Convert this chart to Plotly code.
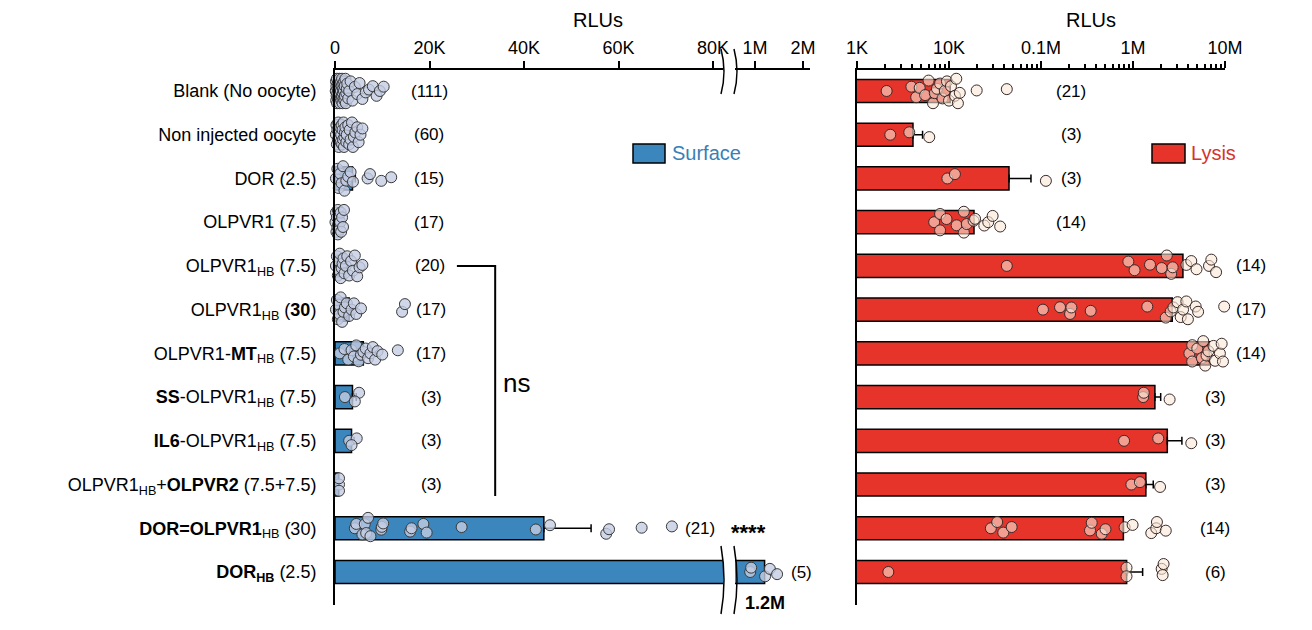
import math
import plotly.graph_objects as go

# ---------------- data ----------------
categories = [
    "Blank (No oocyte)",
    "Non injected oocyte",
    "DOR (2.5)",
    "OLPVR1 (7.5)",
    "OLPVR1<sub>HB</sub> (7.5)",
    "OLPVR1<sub>HB</sub> (<b>30</b>)",
    "OLPVR1-<b>MT</b><sub>HB</sub> (7.5)",
    "<b>SS</b>-OLPVR1<sub>HB</sub> (7.5)",
    "<b>IL6</b>-OLPVR1<sub>HB</sub> (7.5)",
    "OLPVR1<sub>HB</sub>+<b>OLPVR2</b> (7.5+7.5)",
    "<b>DOR=OLPVR1</b><sub>HB</sub> (30)",
    "<b>DOR<sub>HB</sub></b> (2.5)",
]
surface_n = [111, 60, 15, 17, 20, 17, 17, 3, 3, 3, 21, 5]
lysis_n = [21, 3, 3, 14, 14, 17, 14, 3, 3, 3, 14, 6]

surface_mean = [500, 1500, 3700, 900, 2300, 3000, 6000, 3700, 3500, 800, 44200, 1200000]
surface_err = [None, 200, 600, None, 300, 800, 700, 800, 500, None, 10000, None]

lysis_mean = [10300, 4060, 44900, 18700, 3490000, 2670000, 6760000,
              1730000, 2360000, 1380000, 786000, 853000]
lysis_err = [None, 1100, 32900, None, None, None, None,
             270000, 1040000, 280000, None, 420000]

surface_points = [
    [150, 200, 250, 300, 350, 400, 450, 500, 550, 600, 650, 700, 750, 800, 850, 900, 950,
     1000, 1050, 1100, 1150, 1200, 1250, 1300, 1350, 1400, 1450, 1500, 1600, 1650, 1700,
     1750, 1800, 1900, 1950, 2000, 2050, 2100, 2200, 2300, 2400, 2500, 2600, 2800, 3000,
     3300, 3700, 4200, 4700, 5200, 5800, 6500, 7200, 8000, 8800, 9500, 10300],
    [200, 300, 400, 500, 600, 700, 800, 900, 1000, 1100, 1200, 1300, 1400, 1500, 1600,
     1700, 1800, 1900, 2000, 2100, 2200, 2400, 2500, 2800, 3000, 3100, 3300, 3600, 3800,
     4000, 4300, 4700, 5000, 5400, 5800],
    [200, 500, 800, 1100, 1400, 1700, 2000, 2400, 2800, 3300, 3800, 6900, 7400, 9800, 11900],
    [100, 200, 300, 400, 500, 600, 600, 700, 800, 900, 1000, 1100, 1200, 1300, 1500, 1700, 1900],
    [200, 400, 600, 800, 900, 1000, 1200, 1400, 1600, 1800, 2000, 2300, 2600, 3000, 3400,
     3800, 4200, 4700, 5200, 5800],
    [200, 400, 600, 800, 1000, 1200, 1500, 1800, 2100, 2500, 3000, 3500, 4000, 4500, 5500,
     14200, 14800],
    [1000, 2000, 2800, 3500, 4000, 4500, 5000, 5500, 6000, 6500, 7000, 7500, 8000, 8500,
     9000, 10000, 13300],
    [2100, 5100, 4200],
    [3000, 4600, 3500],
    [850, 850, 850],
    [4200, 4500, 5800, 6300, 6600, 7000, 7500, 9800, 9900, 10200, 15900, 16200, 18700,
     19400, 26800, 42500, 45500, 57400, 58000, 64900, 71300],
    [900000, 920000, 1210000, 1310000, 1460000],
]

lysis_points = [
    [2100, 3900, 4400, 4800, 5500, 6000, 6700, 7000, 7400, 8000, 8500, 9000, 9500, 10000,
     10500, 11600, 12000, 12500, 13100, 20000, 42500],
    [2300, 3700, 6100],
    [9600, 11600, 113000],
    [6900, 8000, 8000, 9400, 12100, 14500, 14500, 15600, 18500, 19200, 24200, 26700, 29800, 36000],
    [42500, 890000, 1040000, 1530000, 2050000, 2330000, 2600000, 2700000, 3800000, 4300000,
     4900000, 6700000, 7100000, 8000000],
    [105000, 161000, 207000, 214000, 347000, 1430000, 2270000, 2570000, 2750000, 3050000,
     3300000, 3500000, 3800000, 3950000, 4800000, 5100000, 9800000],
    [4100000, 4400000, 4400000, 5000000, 5600000, 5800000, 6100000, 6300000, 6600000,
     7500000, 7800000, 8800000, 9200000, 9500000],
    [1290000, 1310000, 2500000],
    [800000, 1880000, 4300000],
    [960000, 1190000, 1970000],
    [28500, 33400, 38900, 48000, 341000, 356000, 457000, 502000, 810000, 990000, 1580000,
     1790000, 1820000, 2270000],
    [2190, 850000, 850000, 2050000, 2100000, 2150000],
]

low_ticks = [0, 20000, 40000, 60000, 80000]
low_ticktext = ["0", "20K", "40K", "60K", "80K"]
high_ticks = [1000000, 2000000]
high_ticktext = ["1M", "2M"]
log_ticks = [1e3, 1e4, 1e5, 1e6, 1e7]
log_ticktext = ["1K", "10K", "0.1M", "1M", "10M"]

# ---------------- layout helpers ----------------
OFF = 8  # page body margin
W, H = 1312 - 2 * OFF, 630 - 2 * OFF
L = 335 - OFF
T = 70 - OFF
R = W - (1225 - OFF)
B = H - (605 - OFF)
PW, PH = W - L - R, H - T - B
FONT = "Liberation Sans, Arial, Helvetica, sans-serif"
BLUE = "#3b86bd"
RED = "#e6342a"


def px(x):  # page pixel -> paper
    return (x - OFF - L) / PW


def py(y):
    return 1 - (y - OFF - T) / PH


JIT = [0.0, -0.22, 0.22, -0.11, 0.11, -0.28, 0.28, 0.05, -0.05, -0.17, 0.17]


def jitter(vals, row, window, tf=lambda v: v):
    out = []
    tv = [tf(v) for v in vals]
    for i, v in enumerate(tv):
        crowd = sum(1 for w in tv if abs(w - v) <= window) - 1
        amp = min(1.0, 0.25 + crowd / 5.0)
        out.append(row + JIT[i % len(JIT)] * amp)
    return out


rows = list(range(len(categories)))
fig = go.Figure()

# ---- surface bars (low segment) ----
fig.add_trace(go.Bar(
    orientation="h", x=surface_mean, y=rows, xaxis="x", yaxis="y", width=0.53,
    marker=dict(color=BLUE, line=dict(color="black", width=1.5)),
    error_x=dict(type="data", array=[e if e is not None else float("nan") for e in surface_err],
                 arrayminus=[0] * len(rows), symmetric=False,
                 color="black", thickness=1.5, width=4),
    showlegend=False, hoverinfo="skip"))
# ---- surface bar, high segment (only the broken bar) ----
fig.add_trace(go.Bar(
    orientation="h", x=[surface_mean[11]], y=[11], xaxis="x2", yaxis="y2", width=0.53,
    marker=dict(color=BLUE, line=dict(color="black", width=1.5)),
    showlegend=False, hoverinfo="skip"))

# ---- surface points ----
dot_s = dict(size=11, color="rgba(196,205,228,0.8)", line=dict(color="#3a3a3a", width=1))
for r in rows[:-1]:
    fig.add_trace(go.Scatter(x=surface_points[r], y=jitter(surface_points[r], r, 900),
                             mode="markers", xaxis="x", yaxis="y", marker=dot_s, cliponaxis=False,
                             showlegend=False, hoverinfo="skip"))
fig.add_trace(go.Scatter(x=surface_points[11], y=jitter(surface_points[11], 11, 150000),
                         mode="markers", xaxis="x2", yaxis="y2", marker=dot_s, cliponaxis=False,
                         showlegend=False, hoverinfo="skip"))

# ---- lysis bars ----
fig.add_trace(go.Bar(
    orientation="h", x=lysis_mean, y=rows, xaxis="x3", yaxis="y3", width=0.53,
    marker=dict(color=RED, line=dict(color="black", width=1.5)),
    error_x=dict(type="data", array=[e if e is not None else float("nan") for e in lysis_err],
                 arrayminus=[0] * len(rows), symmetric=False,
                 color="black", thickness=1.5, width=4),
    showlegend=False, hoverinfo="skip"))
dot_l = dict(size=11, color="rgba(250,232,215,0.6)", line=dict(color="#3a2a2a", width=1))
for r in rows:
    fig.add_trace(go.Scatter(x=lysis_points[r], y=jitter(lysis_points[r], r, 0.09, math.log10),
                             mode="markers", xaxis="x3", yaxis="y3", marker=dot_l, cliponaxis=False,
                             showlegend=False, hoverinfo="skip"))

# ---------------- axes ----------------
low_end_px, high_start_px, high_end_px = 723, 735, 810
px_per_k = (713 - 335) / 80.0
low_max = (low_end_px - 335) / px_per_k * 1000
m_per_px = 1e6 / 48.0
high_min = 1e6 - (755 - high_start_px) * m_per_px
high_max = 2e6 + (high_end_px - 803) * m_per_px

axis_common = dict(side="top", showline=True, linewidth=2, linecolor="black", ticks="outside",
                   ticklen=7, tickwidth=2, tickcolor="black", showgrid=False, zeroline=False,
                   tickfont=dict(family=FONT, size=18, color="black"), fixedrange=True)

minor_vals = [m * 10 ** d for d in range(3, 7) for m in range(2, 10)]

fig.update_layout(
    width=W, height=H, margin=dict(l=L, r=R, t=T, b=B),
    paper_bgcolor="white", plot_bgcolor="white",
    font=dict(family=FONT, color="black"),
    xaxis=dict(domain=[0, px(low_end_px)], range=[0, low_max], anchor="y",
               tickvals=low_ticks, ticktext=low_ticktext, **axis_common),
    xaxis2=dict(domain=[px(high_start_px), px(high_end_px)], range=[high_min, high_max], anchor="y2",
                tickvals=high_ticks, ticktext=high_ticktext, **axis_common),
    xaxis3=dict(domain=[px(857), 1], type="log", range=[3, 7], anchor="y3",
                tickvals=log_ticks, ticktext=log_ticktext,
                minor=dict(ticks="outside", ticklen=4, tickwidth=1.5, tickcolor="black",
                           tickmode="array", tickvals=minor_vals, showgrid=False),
                **axis_common),
    yaxis=dict(domain=[0, 1], range=[11.755, -0.48], anchor="x", tickvals=rows, ticktext=categories,
               showline=True, linewidth=2, linecolor="black", ticks="", showgrid=False,
               zeroline=False, ticklabelstandoff=13,
               tickfont=dict(family=FONT, size=18, color="black"), fixedrange=True),
    yaxis2=dict(domain=[0, 1], matches="y", anchor="x2", showticklabels=False, showline=False,
                showgrid=False, zeroline=False, ticks=""),
    yaxis3=dict(domain=[0, 1], matches="y", anchor="x3", showticklabels=False, showline=True,
                linewidth=2, linecolor="black", showgrid=False, zeroline=False, ticks=""),
    bargap=0.47,
)

# ---------------- shapes ----------------
shapes = []
# ns bracket
shapes.append(dict(type="path", xref="x", yref="y",
                   path="M 25800,4 L 33900,4 L 33900,9.26",
                   line=dict(color="black", width=2)))


def brk(x0, y0, y1, bulge=6):
    ym = (y0 + y1) / 2
    return dict(type="path", xref="paper", yref="paper",
                path=f"M {px(x0)},{py(y0)} Q {px(x0 + bulge)},{py(ym)} {px(x0)},{py(y1)}",
                line=dict(color="black", width=1.5))


for xb in (721, 734):
    shapes.append(brk(xb, 49, 94))
    shapes.append(brk(xb, 546, 614))

# legend boxes
shapes.append(dict(type="rect", xref="paper", yref="paper", x0=px(633), x1=px(665),
                   y0=py(163), y1=py(144), fillcolor=BLUE, line=dict(color="black", width=1.5)))
shapes.append(dict(type="rect", xref="paper", yref="paper", x0=px(1152), x1=px(1185),
                   y0=py(163), y1=py(144), fillcolor=RED, line=dict(color="black", width=1.5)))
fig.update_layout(shapes=shapes)

# ---------------- annotations ----------------
ann = []


def text(x, y, s, size=15, xanchor="center", color="black"):
    ann.append(dict(x=px(x), y=py(y), xref="paper", yref="paper", text=s, showarrow=False,
                    xanchor=xanchor, yanchor="middle",
                    font=dict(family=FONT, size=size, color=color)))


text(598, 20, "RLUs", 20)
text(1091, 20, "RLUs", 20)
text(670, 153, "Surface", 20, xanchor="left", color="#3a7fb5")
text(1189, 153, "Lysis", 20, xanchor="left", color="#d8332a")
text(516, 383, "ns", 26)
text(748, 532, "<b>****</b>", 22)
text(765, 603, "<b>1.2M</b>", 18)

row_y = [91 + i * 43.73 for i in rows]
surface_count_x = [429, 429, 429, 429, 430, 431, 431, 431, 431, 431, 700, 801]
lysis_count_x = [1071, 1071, 1071, 1071, 1251, 1251, 1251, 1215, 1215, 1215, 1215, 1215]
for r in rows:
    text(surface_count_x[r], row_y[r], f"({surface_n[r]})", 17)
    text(lysis_count_x[r], row_y[r], f"({lysis_n[r]})", 17)

fig.update_layout(annotations=ann)

fig.write_html("out.html")
